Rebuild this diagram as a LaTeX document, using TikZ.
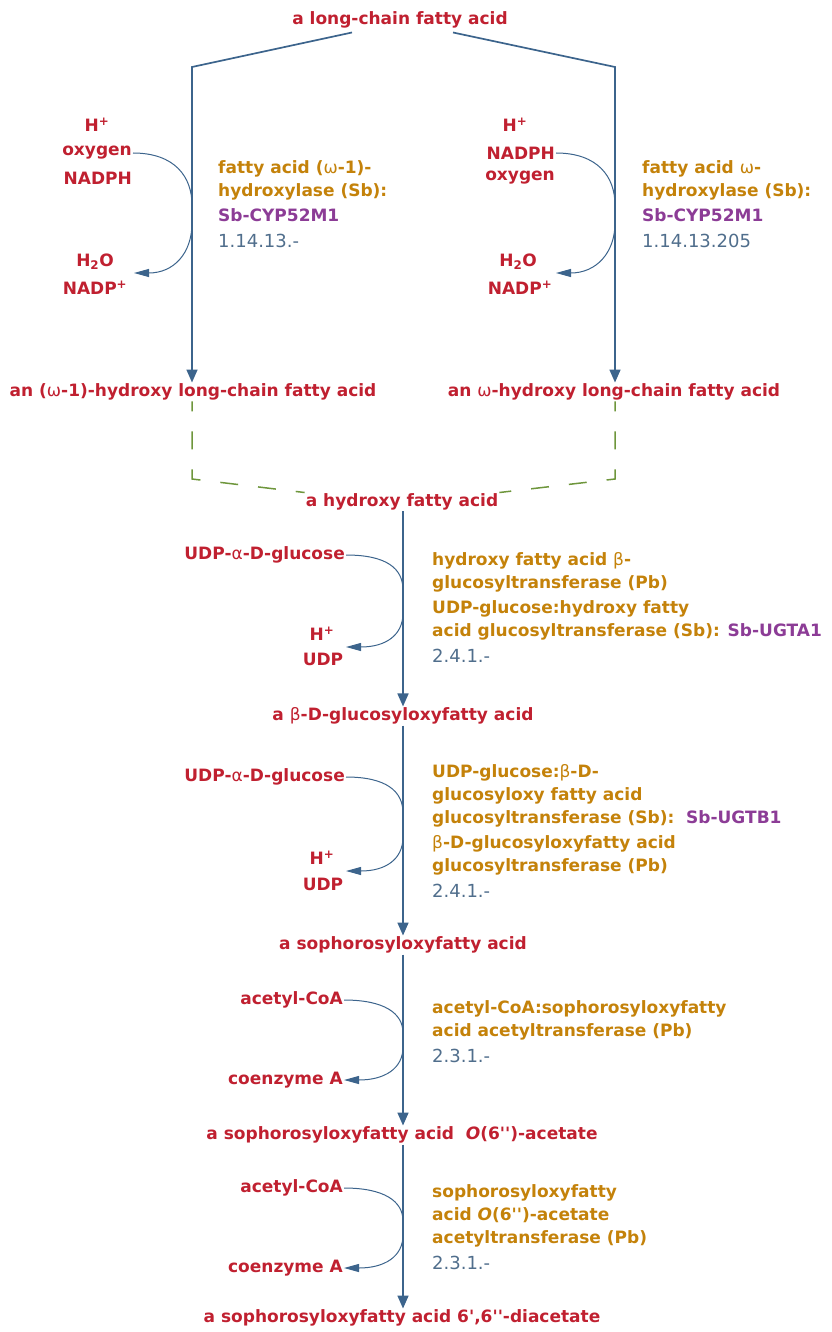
\documentclass[tikz,border=0pt]{standalone}
\usepackage{fontspec}
\setmainfont{DejaVu Sans}
\usetikzlibrary{positioning,arrows.meta,calc}
\definecolor{cpdred}{RGB}{192,32,48}
\definecolor{enzgold}{RGB}{196,130,10}
\definecolor{genepurple}{RGB}{140,60,150}
\definecolor{ecblue}{RGB}{80,110,140}
\definecolor{linkblue}{RGB}{60,100,140}
\definecolor{dashgreen}{RGB}{110,150,60}
\newcommand{\gene}[1]{\textcolor{genepurple}{#1}}
\newcommand{\ecnum}[1]{{\mdseries\fontsize{18}{23}\selectfont\color{ecblue}#1}}
\newcommand{\grk}[1]{{\mdseries #1}}
\newcommand{\dq}{\textquotesingle\textquotesingle}

\tikzset{
  cpd/.style={text=cpdred, font=\bfseries\fontsize{17}{20}\selectfont, inner sep=1pt},
  enz/.style={text=enzgold, font=\bfseries\fontsize{17}{23}\selectfont, align=left, anchor=north west, inner sep=0pt},
  rxn/.style={draw=linkblue, line width=1.7pt, -{Triangle[length=13pt,width=11pt]}},
  sidearr/.style={draw=linkblue, line width=1pt, -{Triangle[length=15pt,width=8pt]}},
  spont/.style={draw=dashgreen, line width=1.5pt, dash pattern=on 18pt off 20pt, dash phase=8pt}
}

\begin{document}
\begin{tikzpicture}[x=1pt,y=-1pt]
    \useasboundingbox (0,0) rectangle (831,1332);

    % Draw compounds of the main route
    \node[cpd] (lcfa) at (400,20) {a long-chain fatty acid};
    \node[cpd] (ohA) at (193,392) {an (\grk{ω}-1)-hydroxy long-chain fatty acid};
    \node[cpd] (ohW) at (614,392) {an \grk{ω}-hydroxy long-chain fatty acid};
    \node[cpd] (hfa) at (402,502) {a hydroxy fatty acid};
    \node[cpd] (glc) at (403,716) {a \grk{β}-D-glucosyloxyfatty acid};
    \node[cpd] (soph) at (403,945) {a sophorosyloxyfatty acid};
    \node[cpd] (sac) at (402,1135) {a sophorosyloxyfatty acid~~\textit{O}(6\dq)-acetate};
    \node[cpd] (sdi) at (402,1318) {a sophorosyloxyfatty acid 6\textquotesingle,6\dq-diacetate};

    % Draw side compounds
    \node[cpd] (hA) at (97,125) {H\textsuperscript{+}};
    \node[cpd, anchor=east] (oxA) at (133,153) {oxygen};
    \node[cpd, anchor=east] (nadphA) at (133,178) {NADPH};
    \node[cpd] (h2oA) at (95,262) {H\textsubscript{2}O};
    \node[cpd] (nadpA) at (95,288) {NADP\textsuperscript{+}};
    \node[cpd] (hW) at (515,125) {H\textsuperscript{+}};
    \node[cpd, anchor=east] (nadphW) at (556,153) {NADPH};
    \node[cpd, anchor=east] (oxW) at (556,178) {oxygen};
    \node[cpd] (h2oW) at (518,262) {H\textsubscript{2}O};
    \node[cpd] (nadpW) at (520,288) {NADP\textsuperscript{+}};
    \node[cpd, anchor=east] (udpgA) at (346,555) {UDP-\grk{α}-D-glucose};
    \node[cpd] (hB) at (322,634) {H\textsuperscript{+}};
    \node[cpd] (udpA) at (323,659) {UDP};
    \node[cpd, anchor=east] (udpgB) at (346,777) {UDP-\grk{α}-D-glucose};
    \node[cpd] (hC) at (322,858) {H\textsuperscript{+}};
    \node[cpd] (udpB) at (323,884) {UDP};
    \node[cpd, anchor=east] (acoA) at (344,1000) {acetyl-CoA};
    \node[cpd, anchor=east] (coaA) at (344,1080) {coenzyme A};
    \node[cpd, anchor=east] (acoB) at (344,1188) {acetyl-CoA};
    \node[cpd, anchor=east] (coaB) at (344,1268) {coenzyme A};

    % Draw enzyme labels
    \node[enz] (enzA) at (218,160) {fatty acid (\grk{ω}-1)-\\hydroxylase (Sb):\\[2pt]\gene{Sb-CYP52M1}\\[3pt]\ecnum{1.14.13.-}};
    \node[enz] (enzW) at (642,160) {fatty acid \grk{ω}-\\hydroxylase (Sb):\\[2pt]\gene{Sb-CYP52M1}\\[3pt]\ecnum{1.14.13.205}};
    \node[enz] (enzB) at (432,552) {hydroxy fatty acid \grk{β}-\\glucosyltransferase (Pb)\\[2pt]UDP-glucose:hydroxy fatty\\acid glucosyltransferase (Sb): \gene{Sb-UGTA1}\\[3pt]\ecnum{2.4.1.-}};
    \node[enz] (enzC) at (432,764) {UDP-glucose:\grk{β}-D-\\glucosyloxy fatty acid\\glucosyltransferase (Sb):~~\gene{Sb-UGTB1}\\[2pt]\grk{β}-D-glucosyloxyfatty acid\\glucosyltransferase (Pb)\\[3pt]\ecnum{2.4.1.-}};
    \node[enz] (enzD) at (432,1000) {acetyl-CoA:sophorosyloxyfatty\\acid acetyltransferase (Pb)\\[3pt]\ecnum{2.3.1.-}};
    \node[enz] (enzE) at (432,1184) {sophorosyloxyfatty\\acid \textit{O}(6\dq)-acetate\\acetyltransferase (Pb)\\[3pt]\ecnum{2.3.1.-}};

    % Draw the two hydroxylation branches
    \coordinate (kneeA) at (192,67);
    \coordinate (kneeW) at (615,67);
    \draw[rxn] ([xshift=-48pt,yshift=-3pt]lcfa.south) -- (kneeA) -- (kneeA |- ohA.north);
    \draw[rxn] ([xshift=53pt,yshift=-3pt]lcfa.south) -- (kneeW) -- (kneeW |- ohW.north);

    % Draw spontaneous links to the hydroxy fatty acid
    \draw[spont] (kneeA |- ohA.south) -- (192,479) -- (hfa.north west);
    \draw[spont] (kneeW |- ohW.south) -- (615,479) -- (hfa.north east);

    % Draw the main reaction arrows
    \draw[rxn] (hfa.south -| glc.north) -- (glc.north);
    \draw[rxn] (glc.south) -- (soph.north);
    \draw[rxn] (soph.south) -- (sac.north -| soph.south);
    \draw[rxn] (sac.south -| soph.south) -- (sdi.north -| soph.south);

    % Draw side reaction curves
    \coordinate (pA) at (134,273);
    \coordinate (pW) at (556,273);
    \coordinate (pB) at (346,647);
    \coordinate (pC) at (346,871);
    \draw[sidearr] (oxA.east) .. controls +(42,0) and +(0,-28) .. (192,205) -- (192,223) .. controls +(0,30) and +(40,0) .. (pA);
    \draw[sidearr] (nadphW.east) .. controls +(42,0) and +(0,-28) .. (615,205) -- (615,223) .. controls +(0,30) and +(40,0) .. (pW);
    \draw[sidearr] (udpgA.east) .. controls +(40,0) and +(0,-22) .. (403,590) -- (403,613) .. controls +(0,22) and +(40,0) .. (pB);
    \draw[sidearr] (udpgB.east) .. controls +(40,0) and +(0,-22) .. (403,813) -- (403,837) .. controls +(0,22) and +(40,0) .. (pC);
    \draw[sidearr] (acoA.east) .. controls +(40,0) and +(0,-20) .. (403,1033) -- (403,1047) .. controls +(0,22) and +(40,0) .. (coaA.east);
    \draw[sidearr] (acoB.east) .. controls +(40,0) and +(0,-20) .. (403,1221) -- (403,1235) .. controls +(0,22) and +(40,0) .. (coaB.east);
\end{tikzpicture}
\end{document}
